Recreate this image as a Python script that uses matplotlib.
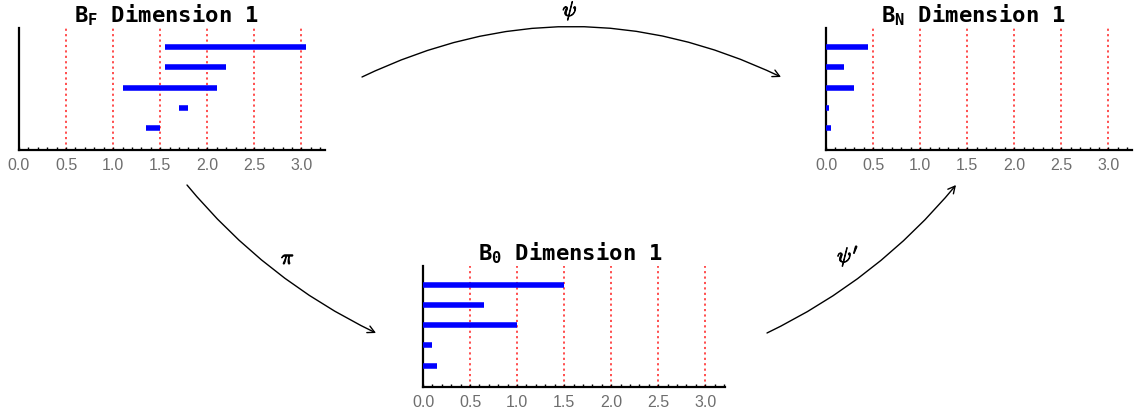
import matplotlib
matplotlib.use("Agg")
import matplotlib.pyplot as plt
from matplotlib.patches import FancyArrowPatch
import matplotlib.patheffects as pe
import numpy as np

# Persistence barcodes (dimension 1) for the three filtrations
bf_births = [1.55, 1.55, 1.10, 1.70, 1.35]
bf_deaths = [3.05, 2.20, 2.10, 1.80, 1.50]

bn_births = [0.0, 0.0, 0.0, 0.0, 0.0]
bn_deaths = [0.45, 0.19, 0.30, 0.03, 0.05]

b0_births = [0.0, 0.0, 0.0, 0.0, 0.0]
b0_deaths = [1.50, 0.65, 1.00, 0.10, 0.15]

tick_values = [0.0, 0.5, 1.0, 1.5, 2.0, 2.5, 3.0]
tick_labels = ["0.0", "0.5", "1.0", "1.5", "2.0", "2.5", "3.0"]

plt.rcParams["mathtext.fontset"] = "custom"
plt.rcParams["mathtext.bf"] = "DejaVu Sans Mono:bold"
plt.rcParams["mathtext.rm"] = "DejaVu Sans Mono:bold"

W, H = 1137, 416
fig = plt.figure(figsize=(W / 100, H / 100), dpi=100)


def px_axes(left, top, right, bottom):
    return fig.add_axes([left / W, 1 - bottom / H, (right - left) / W, (bottom - top) / H])


def barcode(ax, births, deaths, xmax, title, title_x, title_base):
    n = len(births)
    ys = np.arange(n, 0, -1)
    for g in tick_values[1:]:
        ax.axvline(g, color="red", alpha=0.75, lw=1.3, ls=(0, (1.2, 1.8)), zorder=1)
    ax.hlines(ys, births, deaths, colors="#0000ff", lw=4.0, capstyle="butt", zorder=3)
    ax.set_xlim(0, xmax)
    ax.set_ylim(-0.06, 5.92)
    for s in ("top", "right"):
        ax.spines[s].set_visible(False)
    for s in ("left", "bottom"):
        ax.spines[s].set_linewidth(1.6)
        ax.spines[s].set_color("black")
    ax.set_yticks([])
    ax.set_xticks(tick_values)
    ax.set_xticklabels(tick_labels)
    ax.set_xticks(np.arange(0.1, xmax, 0.1), minor=True)
    ax.tick_params(axis="x", which="both", direction="in", length=2.5, width=1.0,
                   color="black", labelsize=11.5, labelcolor="#6e6e6e", pad=6)
    for lab in ax.get_xticklabels():
        lab.set_fontfamily("Liberation Sans")
    fig.text(title_x / W, 1 - title_base / H, title, ha="center", va="baseline",
             fontsize=16, fontfamily="DejaVu Sans Mono", fontweight="bold")


ax_f = px_axes(19, 28, 325, 150)
barcode(ax_f, bf_births, bf_deaths, 3.25, r"$\mathbf{B_F}$ Dimension 1", 166.5, 22.7)

ax_n = px_axes(826, 28, 1132, 150)
barcode(ax_n, bn_births, bn_deaths, 3.25, r"$\mathbf{B_N}$ Dimension 1", 974, 22.7)

ax_0 = px_axes(423, 266, 725, 387)
barcode(ax_0, b0_births, b0_deaths, 3.21, r"$\mathbf{B_0}$ Dimension 1", 570.5, 260)

# Overlay in pixel coordinates for the maps between the barcodes
ov = fig.add_axes([0, 0, 1, 1], zorder=-1)
ov.set_xlim(0, W)
ov.set_ylim(H, 0)
ov.axis("off")

arrows = [
    ((362, 77), (781, 77), -0.24),
    ((187, 185), (376, 333), 0.11),
    ((767, 333), (956, 185), 0.11),
]
for a, b, rad in arrows:
    ov.add_patch(FancyArrowPatch(a, b, connectionstyle=f"arc3,rad={rad}",
                                 arrowstyle="->,head_length=5,head_width=2.6",
                                 mutation_scale=1, lw=1.0, color="black",
                                 shrinkA=0, shrinkB=0))

bold = [pe.withStroke(linewidth=0.7, foreground="black")]
ov.text(570, 11, r"$\psi$", math_fontfamily="cm", fontsize=15, ha="center", va="center",
        path_effects=bold)
ov.text(288, 258, r"$\pi$", math_fontfamily="cm", fontsize=15, ha="center", va="center",
        path_effects=bold)
ov.text(848, 256, r"$\psi'$", math_fontfamily="cm", fontsize=15, ha="center", va="center",
        path_effects=bold)

fig.savefig("out.png", dpi=100)
